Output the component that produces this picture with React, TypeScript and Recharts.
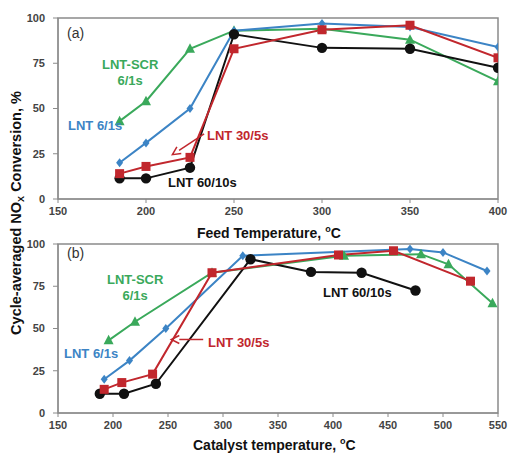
import React from 'react';
import { LineChart, Line, XAxis, YAxis, ReferenceArea, ReferenceLine } from 'recharts';

// feed temperature (panel a), shared by all four runs
const feedTemp = [185, 200, 225, 250, 300, 350, 400];

// catalyst temperature (panel b), one list per run
const catScrTemp = [196, 220, 290, 410, 480, 505, 545];
const cat6Temp = [192, 215, 248, 318, 470, 500, 540];
const cat30Temp = [192, 208, 236, 290, 405, 455, 525];
const cat60Temp = [188, 210, 239, 325, 380, 426, 475];

// cycle-averaged NOx conversion, %
const lntScr61 = [43, 54, 83, 93, 94, 88, 65];
const lnt61 = [20, 31, 50, 93, 97, 95, 84];
const lnt305 = [14, 18, 23, 83, 93.5, 96, 78];
const lnt6010 = [11.4, 11.4, 17.3, 91, 83.5, 83, 72.5];

const yTicks = [0, 25, 50, 75, 100];
const xTicksA = [150, 200, 250, 300, 350, 400];
const xTicksB = [150, 200, 250, 300, 350, 400, 450, 500, 550];

const GREEN = '#3aa95b';
const BLUE = '#3c84c5';
const RED = '#c1272d';
const BLACK = '#111111';
const AXIS = '#8a8a8a';
const FONT = '"Liberation Sans", Arial, sans-serif';

const zip = (xs: number[], ys: number[]) => xs.map((x, i) => ({ x, y: ys[i] }));

const triangle = (p: any) => (
    <polygon key={`t-${p.index}`} points={`${p.cx},${p.cy - 5.5} ${p.cx + 5},${p.cy + 4} ${p.cx - 5},${p.cy + 4}`} fill={GREEN} />
);
const diamond = (p: any) => (
    <polygon key={`d-${p.index}`} points={`${p.cx},${p.cy - 4.5} ${p.cx + 3.5},${p.cy} ${p.cx},${p.cy + 4.5} ${p.cx - 3.5},${p.cy}`} fill={BLUE} />
);
const square = (p: any) => (
    <rect key={`s-${p.index}`} x={p.cx - 4.5} y={p.cy - 4.5} width={9} height={9} fill={RED} />
);
const circle = (p: any) => (
    <circle key={`c-${p.index}`} cx={p.cx} cy={p.cy} r={5.2} fill={BLACK} />
);

// line with an arrowhead at its (x2, y2) end
const arrowShape = (p: any) => {
    const { x1, y1, x2, y2 } = p;
    const a = Math.atan2(y2 - y1, x2 - x1);
    const len = 8;
    const w = 4;
    const bx = x2 - len * Math.cos(a);
    const by = y2 - len * Math.sin(a);
    const px = -Math.sin(a) * w;
    const py = Math.cos(a) * w;
    return (
        <g>
            <line x1={x1} y1={y1} x2={bx} y2={by} stroke={RED} strokeWidth={1.5} />
            <polyline points={`${bx + px},${by + py} ${x2},${y2} ${bx - px},${by - py}`} fill="none" stroke={RED} strokeWidth={1.5} />
        </g>
    );
};

const tickStyle = { fontSize: 11, fontWeight: 700, fill: '#444', fontFamily: FONT };

const label = (text: React.ReactNode, left: number, top: number, color: string, extra: React.CSSProperties = {}) => (
    <div style={{ position: 'absolute', left, top, color, fontFamily: FONT, fontWeight: 700, fontSize: 13, lineHeight: '16px', whiteSpace: 'nowrap', ...extra }}>
        {text}
    </div>
);

const Panel: React.FC<{ top: number; height: number; bottom: number; xMax: number; xTicks: number[]; series: { data: { x: number; y: number }[]; color: string; dot: any }[]; arrow: [number, number, number, number] }> = ({ top, height, bottom, xMax, xTicks, series, arrow }) => (
    <div style={{ position: 'absolute', left: 0, top }}>
        <LineChart width={509} height={height} margin={{ top: 18, right: 11, left: 18, bottom }}>
            <XAxis type="number" dataKey="x" domain={[150, xMax]} ticks={xTicks} allowDataOverflow
                stroke={AXIS} tickSize={4} tickMargin={4} tick={tickStyle} height={20} />
            <YAxis type="number" domain={[0, 100]} ticks={yTicks} width={40}
                stroke={AXIS} tickSize={5} tickMargin={8} tick={tickStyle} />
            <ReferenceArea x1={150} x2={xMax} y1={0} y2={100} fill="none" stroke={AXIS} strokeWidth={1.5} />
            {series.map((s, i) => (
                <Line key={i} data={s.data} dataKey="y" type="linear" stroke={s.color} strokeWidth={2}
                    dot={s.dot} activeDot={false} isAnimationActive={false} />
            ))}
            <ReferenceLine segment={[{ x: arrow[0], y: arrow[1] }, { x: arrow[2], y: arrow[3] }]} shape={arrowShape} />
        </LineChart>
    </div>
);

export default function App() {
    const seriesA = [
        { data: zip(feedTemp, lntScr61), color: GREEN, dot: triangle },
        { data: zip(feedTemp, lnt61), color: BLUE, dot: diamond },
        { data: zip(feedTemp, lnt6010), color: BLACK, dot: circle },
        { data: zip(feedTemp, lnt305), color: RED, dot: square },
    ];
    const seriesB = [
        { data: zip(catScrTemp, lntScr61), color: GREEN, dot: triangle },
        { data: zip(cat6Temp, lnt61), color: BLUE, dot: diamond },
        { data: zip(cat60Temp, lnt6010), color: BLACK, dot: circle },
        { data: zip(cat30Temp, lnt305), color: RED, dot: square },
    ];

    return (
        <div style={{ position: 'absolute', left: 0, top: 0, width: 509, height: 453, background: '#fff', overflow: 'hidden' }}>
            <Panel top={0} height={222} bottom={3} xMax={400} xTicks={xTicksA} series={seriesA} arrow={[233, 36, 215, 24.5]} />
            <Panel top={226} height={227} bottom={20} xMax={550} xTicks={xTicksB} series={seriesB} arrow={[282, 43.5, 253, 43.5]} />

            {/* panel (a) annotations */}
            {label('(a)', 67, 25, '#333', { fontWeight: 400, fontSize: 14 })}
            {label(<div style={{ textAlign: 'center' }}>LNT-SCR<br />6/1s</div>, 102, 57, GREEN)}
            {label('LNT 6/1s', 68, 118, BLUE)}
            {label('LNT 30/5s', 207, 128, RED)}
            {label('LNT 60/10s', 168, 175, BLACK)}

            {/* panel (b) annotations */}
            {label('(b)', 67, 245, '#333', { fontWeight: 400, fontSize: 14 })}
            {label(<div style={{ textAlign: 'center' }}>LNT-SCR<br />6/1s</div>, 107, 272, GREEN)}
            {label('LNT 6/1s', 64, 346, BLUE)}
            {label('LNT 30/5s', 208, 335, RED)}
            {label('LNT 60/10s', 323, 285, BLACK)}

            {/* axis titles */}
            {label(<span>Feed Temperature, <sup style={{ fontSize: 9 }}>o</sup>C</span>, 197, 221, '#111', { fontSize: 14 })}
            {label(<span>Catalyst temperature, <sup style={{ fontSize: 9 }}>o</sup>C</span>, 193, 434, '#111', { fontSize: 14, lineHeight: '15px' })}
            <div style={{ position: 'absolute', left: 17, top: 213, transform: 'translate(-50%, -50%) rotate(-90deg)', fontFamily: FONT, fontWeight: 700, fontSize: 14.5, color: '#111', whiteSpace: 'nowrap' }}>
                Cycle-averaged NO<sub style={{ fontSize: 9 }}>X</sub> Conversion, %
            </div>
        </div>
    );
}
